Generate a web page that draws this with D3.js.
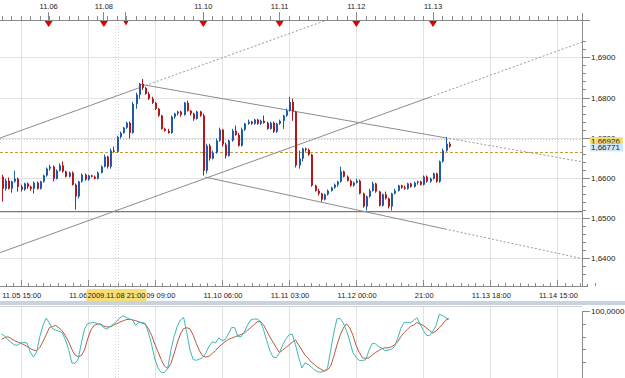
<!DOCTYPE html>
<html>
<head>
<meta charset="utf-8">
<title>GBPUSD H1</title>
<script src="https://cdn.jsdelivr.net/npm/d3@7"></script>
<style>
body { margin: 0; background: #fff; }
svg text { font-family: "Liberation Sans", Arial, sans-serif; fill: #222; }
</style>
</head>
<body>
<script>
// hourly candles, open of each bar = previous close
var firstOpen = 1.6603;
var closes = [
 1.6573,1.6593,1.6573,1.6591,1.6598,1.6578,1.6571,1.6586,1.6578,1.6573,
 1.6588,1.6573,1.6591,1.6606,1.6623,1.6628,1.6598,1.6618,1.6631,1.6616,
 1.6603,1.6613,1.6583,1.6554,1.6591,1.6608,1.6596,1.6606,1.6603,1.6598,
 1.6613,1.6628,1.6653,1.6628,1.6668,1.6665,1.6702,1.6712,1.6725,1.6737,
 1.6712,1.6784,1.6807,1.6834,1.6824,1.6809,1.6797,1.6787,1.6772,1.6755,
 1.6722,1.6717,1.6712,1.6752,1.6760,1.6765,1.6757,1.6787,1.6767,1.6760,
 1.6747,1.6765,1.6755,1.6618,1.6680,1.6648,1.6663,1.6693,1.6720,1.6683,
 1.6655,1.6693,1.6717,1.6707,1.6680,1.6720,1.6735,1.6740,1.6735,1.6745,
 1.6735,1.6742,1.6737,1.6722,1.6737,1.6715,1.6735,1.6742,1.6755,1.6767,
 1.6789,1.6765,1.6631,1.6648,1.6673,1.6670,1.6658,1.6581,1.6568,1.6561,
 1.6546,1.6559,1.6568,1.6576,1.6583,1.6591,1.6616,1.6603,1.6593,1.6581,
 1.6588,1.6593,1.6561,1.6529,1.6554,1.6568,1.6586,1.6566,1.6531,1.6559,
 1.6549,1.6529,1.6561,1.6568,1.6581,1.6576,1.6573,1.6586,1.6578,1.6588,
 1.6591,1.6583,1.6603,1.6591,1.6598,1.6611,1.6591,1.6641,1.6668,1.6685,
 1.6678];
var highs = [
 1.6608,1.6598,1.6601,1.6593,1.6618,1.6601,1.6583,1.6588,1.6588,1.6581,
 1.6591,1.6591,1.6593,1.6608,1.6626,1.6633,1.6631,1.6621,1.6636,1.6641,
 1.6618,1.6616,1.6616,1.6586,1.6593,1.6611,1.6611,1.6608,1.6608,1.6606,
 1.6616,1.6631,1.6658,1.6655,1.6673,1.6678,1.6705,1.6715,1.6727,1.6740,
 1.6740,1.6789,1.6812,1.6836,1.6846,1.6826,1.6814,1.6802,1.6789,1.6774,
 1.6757,1.6725,1.6722,1.6755,1.6762,1.6767,1.6767,1.6789,1.6792,1.6769,
 1.6762,1.6767,1.6767,1.6760,1.6685,1.6685,1.6668,1.6698,1.6725,1.6722,
 1.6688,1.6695,1.6722,1.6730,1.6712,1.6725,1.6737,1.6745,1.6742,1.6747,
 1.6747,1.6745,1.6755,1.6740,1.6740,1.6740,1.6737,1.6745,1.6757,1.6772,
 1.6802,1.6797,1.6767,1.6668,1.6675,1.6675,1.6673,1.6660,1.6583,1.6573,
 1.6563,1.6561,1.6571,1.6578,1.6586,1.6593,1.6628,1.6618,1.6606,1.6596,
 1.6591,1.6598,1.6596,1.6563,1.6556,1.6573,1.6591,1.6588,1.6568,1.6561,
 1.6566,1.6551,1.6563,1.6573,1.6583,1.6583,1.6581,1.6588,1.6588,1.6591,
 1.6593,1.6593,1.6606,1.6606,1.6601,1.6613,1.6613,1.6643,1.6673,1.6702,
 1.6690];
var lows = [
 1.6541,1.6568,1.6571,1.6563,1.6588,1.6566,1.6566,1.6568,1.6573,1.6568,
 1.6561,1.6571,1.6571,1.6588,1.6603,1.6618,1.6591,1.6596,1.6616,1.6613,
 1.6601,1.6601,1.6581,1.6521,1.6549,1.6588,1.6593,1.6593,1.6601,1.6596,
 1.6596,1.6611,1.6626,1.6623,1.6623,1.6663,1.6663,1.6698,1.6710,1.6722,
 1.6698,1.6710,1.6772,1.6797,1.6819,1.6807,1.6794,1.6784,1.6769,1.6752,
 1.6720,1.6715,1.6710,1.6710,1.6747,1.6755,1.6752,1.6755,1.6765,1.6755,
 1.6742,1.6745,1.6752,1.6606,1.6611,1.6643,1.6646,1.6660,1.6690,1.6678,
 1.6648,1.6653,1.6690,1.6705,1.6678,1.6678,1.6717,1.6732,1.6732,1.6732,
 1.6732,1.6732,1.6735,1.6720,1.6720,1.6712,1.6712,1.6732,1.6722,1.6752,
 1.6765,1.6742,1.6626,1.6623,1.6641,1.6665,1.6655,1.6578,1.6566,1.6556,
 1.6541,1.6544,1.6556,1.6566,1.6573,1.6578,1.6588,1.6601,1.6591,1.6578,
 1.6578,1.6586,1.6559,1.6526,1.6519,1.6551,1.6566,1.6563,1.6529,1.6529,
 1.6546,1.6524,1.6519,1.6559,1.6566,1.6573,1.6571,1.6571,1.6576,1.6576,
 1.6583,1.6581,1.6581,1.6588,1.6588,1.6596,1.6588,1.6588,1.6638,1.6665,
 1.6675];

// stochastic %K (teal) and %D (brown)
var stochK = [
 64,61,55,51,47,46.5,50,51,50,36,
 28,36,60,78,89,81,72,70,68.5,66,
 55,40,19,18,25,50,72,80.5,81.5,82,
 80.5,79,74,71.5,75.5,79.5,83.5,89,92.5,90,
 87.5,86.5,77.5,82.5,82,80.5,66,47,25,11,
 4,4,10,38,60,76,86,90,66,39,
 24,23,25,27,35,45,52,50,58,54,
 55,64,74,74,60,60,67,78,86,87.5,
 87.5,84,71,54,38,28,27,35,47,56,
 63,64,47.5,27.5,11,19,16.5,12.5,8,5,
 4.5,6,10,38,66,88,88,81,69,53,
 35,27.5,22.5,22.5,24,38,49,49,44,42,
 38,39,40,44.5,57,73,82,82.5,81.5,85.5,
 89.5,79.5,70,62,61.5,68.5,77,95,93,89.5,
 87.5];
var stochD = [
 56,58,60,57,54,51.5,49.5,47.5,44.5,41.5,
 39,38,43,52.5,63,74,76,77.5,73.5,69,
 61,52,40,31.5,28.5,30.5,39,57,70.5,77.5,
 79.5,79.5,76.5,75,75.5,77.5,80,82.5,84.5,86.5,
 87,86,85,83,81,79.5,72,62,48,36,
 24,14,10,17.5,33,50,64,72.5,74,72,
 62,49,37.5,29.5,28,29.5,34,38,44,48,
 52,55.5,57.5,59.5,61.5,63.5,65.5,70,74,78.5,
 83,83.5,78.5,69,59.5,51,43,35,39,43,
 47,51,55,47,39,31,26,20,16,12,
 9,6,8,13.5,29,47,62,73.5,80,73.5,
 62,46,35,27,26,27,31,35,38,41,
 42.5,42.5,44,47,52,60,66,71,76,78,
 82,80,77.5,73.5,69.5,65.5,68.5,74,79,85.5,
 88];

// time axis (bar index of each label)
var timeTickBars = [6, 27, 48, 69, 90, 111, 132, 153, 174];
var timeTickLabels = ["11.05 15:00", "11.06 12:00", "11.09 09:00", "11.10 06:00",
    "11.11 03:00", "11.12 00:00", "21:00", "11.13 18:00", "11.14 15:00"];
var weekStartBar = 36;
var weekStartLabel = "2009.11.08 21:00";

var priceTicks = [1.64, 1.65, 1.66, 1.67, 1.68, 1.69];

// event markers on top strip
var eventBars = [14.6, 31.9, 38.8, 63.0, 86.9, 110.9, 134.9];
var eventLabels = ["11.06", "11.08", "", "11.10", "11.11", "11.12", "11.13"];
var eventBig = [true, true, false, true, true, true, true];

// drawn objects: [bar, price] pairs
var trendLines = [
    {a: [-0.5, 1.6699], b: [42.7, 1.6823]},
    {a: [-0.5, 1.6414], b: [134.1, 1.6801]},
    {a: [43.4, 1.6833], b: [138.8, 1.6700]},
    {a: [63.7, 1.6602], b: [138.8, 1.6473]}
];
var supportLevel = 1.6516;
var orangeLevel = 1.6665;
var askLevel = 1.6696;
var labelAsk = "1,66926";
var labelBid = "1,66771";

var width = 625, height = 378,
    plotRight = 582,
    mainTop = 20, mainBottom = 286,
    lowTop = 306, lowBottom = 378;

var x = d3.scaleLinear().domain([0, 140]).range([1.5, 448.8]);
var y = d3.scaleLinear().domain([1.64, 1.69]).range([258.3, 57.3]);
var ys = d3.scaleLinear().domain([0, 100]).range([375, 311]);

var bars = closes.map(function(c, i){
    return {i: i, o: i ? closes[i - 1] : firstOpen, h: highs[i], l: lows[i], c: c};
});

var svg = d3.select("body").append("svg")
    .attr("width", width)
    .attr("height", height);

var defs = svg.append("defs");
defs.append("clipPath").attr("id", "clipMain")
    .append("rect").attr("x", 0).attr("y", mainTop)
    .attr("width", plotRight).attr("height", mainBottom - mainTop);
defs.append("clipPath").attr("id", "clipLow")
    .append("rect").attr("x", 0).attr("y", lowTop)
    .attr("width", plotRight).attr("height", lowBottom - lowTop);

function px(v){ return Math.round(v) + 0.5; }

// ---- grid
var grid = svg.append("g").attr("stroke", "#e2e2e2").attr("stroke-width", 1);
timeTickBars.forEach(function(b){
    grid.append("line").attr("x1", px(x(b))).attr("x2", px(x(b)))
        .attr("y1", mainTop).attr("y2", mainBottom);
    grid.append("line").attr("x1", px(x(b))).attr("x2", px(x(b)))
        .attr("y1", lowTop).attr("y2", lowBottom);
});
priceTicks.forEach(function(p){
    grid.append("line").attr("x1", 0).attr("x2", plotRight)
        .attr("y1", px(y(p))).attr("y2", px(y(p)));
});

// week separator (dotted)
[-1.5, 1.5].forEach(function(d){
    svg.append("line")
        .attr("x1", px(x(weekStartBar) + d)).attr("x2", px(x(weekStartBar) + d))
        .attr("y1", mainTop).attr("y2", lowBottom)
        .attr("stroke", "#d8d8d8").attr("stroke-dasharray", "1,2");
});

// ---- main pane objects
var main = svg.append("g").attr("clip-path", "url(#clipMain)");

main.append("line").attr("x1", 0).attr("x2", plotRight)
    .attr("y1", px(y(askLevel))).attr("y2", px(y(askLevel)))
    .attr("stroke", "#c4c4c4").attr("stroke-dasharray", "1,2");
main.append("line").attr("x1", 0).attr("x2", plotRight)
    .attr("y1", px(y(orangeLevel))).attr("y2", px(y(orangeLevel)))
    .attr("stroke", "#c99a3a").attr("stroke-dasharray", "3,2");
main.append("line").attr("x1", 0).attr("x2", plotRight)
    .attr("y1", y(supportLevel)).attr("y2", y(supportLevel))
    .attr("stroke", "#84785f").attr("stroke-width", 1.4);

trendLines.forEach(function(t){
    var slope = (t.b[1] - t.a[1]) / (t.b[0] - t.a[0]);
    var endBar = 200;
    main.append("line")
        .attr("x1", x(t.a[0])).attr("y1", y(t.a[1]))
        .attr("x2", x(t.b[0])).attr("y2", y(t.b[1]))
        .attr("stroke", "#8c8c8c").attr("stroke-width", 1);
    main.append("line")
        .attr("x1", x(t.b[0])).attr("y1", y(t.b[1]))
        .attr("x2", x(endBar)).attr("y2", y(t.b[1] + slope * (endBar - t.b[0])))
        .attr("stroke", "#9a9a9a").attr("stroke-width", 1)
        .attr("stroke-dasharray", "2,2");
});

// candles
var up = "#1f5ba8", down = "#b3181d";
var candle = main.selectAll("g.candle")
    .data(bars)
    .enter().append("g")
    .attr("class", "candle");
candle.append("line")
    .attr("x1", function(d){ return px(x(d.i)); })
    .attr("x2", function(d){ return px(x(d.i)); })
    .attr("y1", function(d){ return y(d.h); })
    .attr("y2", function(d){ return y(d.l); })
    .attr("stroke", function(d){ return d.c >= d.o ? up : down; });
candle.append("rect")
    .attr("x", function(d){ return Math.round(x(d.i)); })
    .attr("width", 2)
    .attr("y", function(d){ return y(Math.max(d.o, d.c)); })
    .attr("height", function(d){ return Math.max(1, Math.abs(y(d.o) - y(d.c))); })
    .attr("fill", function(d){ return d.c >= d.o ? up : down; });

// ---- top strip with events
svg.append("line").attr("x1", 0).attr("x2", 590)
    .attr("y1", px(mainTop)).attr("y2", px(mainTop))
    .attr("stroke", "#8a8a8a");
d3.range(0, 183, 3).forEach(function(b){
    svg.append("line").attr("x1", px(x(b))).attr("x2", px(x(b)))
        .attr("y1", 16).attr("y2", mainTop)
        .attr("stroke", "#8a8a8a");
});
eventBars.forEach(function(b, k){
    var cx = x(b), s = eventBig[k] ? 4 : 2.5, h = eventBig[k] ? 6 : 4.5;
    svg.append("line").attr("x1", px(cx)).attr("x2", px(cx))
        .attr("y1", 12).attr("y2", mainTop).attr("stroke", "#8a8a8a");
    svg.append("path")
        .attr("d", "M" + (cx - s + 0.5) + "," + (mainTop + 1) + "L" + (cx + s + 0.5) + "," + (mainTop + 1) +
            "L" + (cx + 0.5) + "," + (mainTop + 1 + h) + "Z")
        .attr("fill", "#e00000");
    if (eventLabels[k]) {
        svg.append("text").attr("x", cx + 0.5).attr("y", 9)
            .attr("text-anchor", "middle").attr("font-size", "7.5px")
            .text(eventLabels[k]);
    }
});

// ---- bottom time axis
svg.append("line").attr("x1", 0).attr("x2", plotRight + 6)
    .attr("y1", px(mainBottom)).attr("y2", px(mainBottom))
    .attr("stroke", "#8a8a8a");
d3.range(-15, 186, 7 / 3).forEach(function(b, k){
    svg.append("line").attr("x1", px(x(b))).attr("x2", px(x(b)))
        .attr("y1", mainBottom - (k % 2 ? 2 : 3)).attr("y2", mainBottom)
        .attr("stroke", "#8a8a8a");
});
timeTickBars.forEach(function(b, k){
    svg.append("line").attr("x1", px(x(b))).attr("x2", px(x(b)))
        .attr("y1", mainBottom - 6).attr("y2", mainBottom)
        .attr("stroke", "#8a8a8a");
    svg.append("text").attr("x", x(b) + 1).attr("y", 298)
        .attr("text-anchor", "middle").attr("font-size", "7.5px")
        .text(timeTickLabels[k]);
});
svg.append("rect").attr("x", x(weekStartBar) - 30).attr("y", 289)
    .attr("width", 60).attr("height", 12).attr("fill", "#f7df74");
svg.append("text").attr("x", x(weekStartBar)).attr("y", 298)
    .attr("text-anchor", "middle").attr("font-size", "7.5px")
    .text(weekStartLabel);

// ---- right price axis
svg.append("line").attr("x1", px(plotRight)).attr("x2", px(plotRight))
    .attr("y1", 13).attr("y2", mainBottom).attr("stroke", "#8a8a8a");
d3.range(1.636, 1.6945, 0.002).forEach(function(p){
    svg.append("line").attr("x1", plotRight).attr("x2", plotRight + 4)
        .attr("y1", px(y(p))).attr("y2", px(y(p))).attr("stroke", "#8a8a8a");
});
priceTicks.forEach(function(p){
    svg.append("line").attr("x1", plotRight).attr("x2", plotRight + 8)
        .attr("y1", px(y(p))).attr("y2", px(y(p))).attr("stroke", "#8a8a8a");
    svg.append("text").attr("x", 591).attr("y", y(p) + 3)
        .attr("font-size", "8px")
        .text(d3.format(".4f")(p).replace(".", ","));
});
svg.append("rect").attr("x", 590).attr("y", y(1.66926) - 3.5)
    .attr("width", 33).attr("height", 8).attr("fill", "#f5dc73");
svg.append("text").attr("x", 591).attr("y", y(1.66926) + 3)
    .attr("font-size", "8px").text(labelAsk);
svg.append("rect").attr("x", 590).attr("y", y(1.66771) - 3.5)
    .attr("width", 33).attr("height", 8).attr("fill", "#cfe7f6");
svg.append("text").attr("x", 591).attr("y", y(1.66771) + 3)
    .attr("font-size", "8px").text(labelBid);

// ---- separator between panes
svg.append("rect").attr("x", 0).attr("y", 301).attr("width", width).attr("height", 4)
    .attr("fill", "#c9d3de");
svg.append("line").attr("x1", 0).attr("x2", plotRight)
    .attr("y1", px(lowTop)).attr("y2", px(lowTop)).attr("stroke", "#d0d0d0");

// ---- stochastic pane
var low = svg.append("g").attr("clip-path", "url(#clipLow)");
var line = d3.line()
    .x(function(d, i){ return x(i); })
    .y(function(d){ return ys(d); });
low.append("path").datum(stochD)
    .attr("d", line).attr("fill", "none")
    .attr("stroke", "#b85a3c").attr("stroke-width", 1);
low.append("path").datum(stochK)
    .attr("d", line).attr("fill", "none")
    .attr("stroke", "#3fb6b8").attr("stroke-width", 1);

svg.append("line").attr("x1", px(plotRight)).attr("x2", px(plotRight))
    .attr("y1", ys(100)).attr("y2", lowBottom).attr("stroke", "#8a8a8a");
[100, 80, 60, 40, 20].forEach(function(v){
    svg.append("line").attr("x1", plotRight).attr("x2", plotRight + (v === 100 ? 8 : 4))
        .attr("y1", px(ys(v))).attr("y2", px(ys(v))).attr("stroke", "#8a8a8a");
});
svg.append("text").attr("x", 591).attr("y", ys(100) + 3)
    .attr("font-size", "8px").text("100,0000");
</script>
</body>
</html>
